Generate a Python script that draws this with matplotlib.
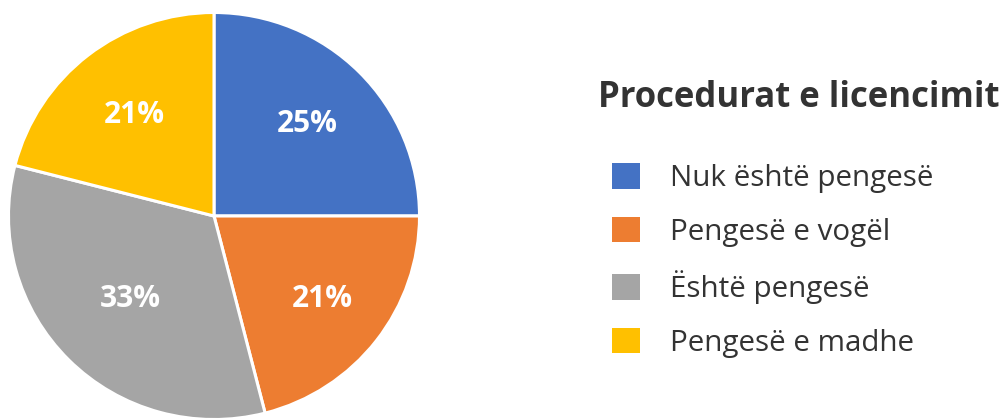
import matplotlib
matplotlib.use("Agg")
import matplotlib.pyplot as plt
import numpy as np

plt.rcParams['font.family'] = ['Open Sans', 'DejaVu Sans']

categories = ["Nuk është pengesë", "Pengesë e vogël", "Është pengesë", "Pengesë e madhe"]
values = [25, 21, 33, 21]
colors = ["#4472C4", "#ED7D31", "#A5A5A5", "#FFC000"]
title = "Procedurat e licencimit"

W, H = 1003, 419
fig = plt.figure(figsize=(W / 100, H / 100), dpi=100)
fig.patch.set_facecolor("white")

cx, cy, rx, ry = 214, 216, 205.5, 203.5
ax = fig.add_axes([(cx - rx) / W, (H - cy - ry) / H, 2 * rx / W, 2 * ry / H])
wedges, _ = ax.pie(
    values, colors=colors, startangle=90, counterclock=False, radius=1.0,
    wedgeprops=dict(edgecolor="white", linewidth=2.2),
)
label_dist = [0.64, 0.665, 0.575, 0.63]
for w, v, d in zip(wedges, values, label_dist):
    ang = np.deg2rad((w.theta1 + w.theta2) / 2)
    ax.text(d * np.cos(ang), d * np.sin(ang), f"{v}%", color="white",
            fontsize=21.5, fontweight="bold", ha="center", va="center")
ax.set_xlim(-1, 1)
ax.set_ylim(-1, 1)
ax.set_aspect("auto")
ax.axis("off")

fig.text(598 / W, 1 - 107 / H, title, fontsize=25, fontweight="bold",
         color="#333333", ha="left", va="baseline")

leg = fig.legend(
    wedges, categories, loc="upper left",
    bbox_to_anchor=(612 / W, 1 - 163 / H),
    frameon=False, fontsize=21.3, handlelength=0.95, handleheight=0.95,
    handletextpad=1.0, labelspacing=0.8, labelcolor="#333333",
    borderpad=0, borderaxespad=0,
)
for h in leg.legend_handles:
    h.set_edgecolor("none")

fig.savefig("out.png", dpi=100, facecolor="white")
